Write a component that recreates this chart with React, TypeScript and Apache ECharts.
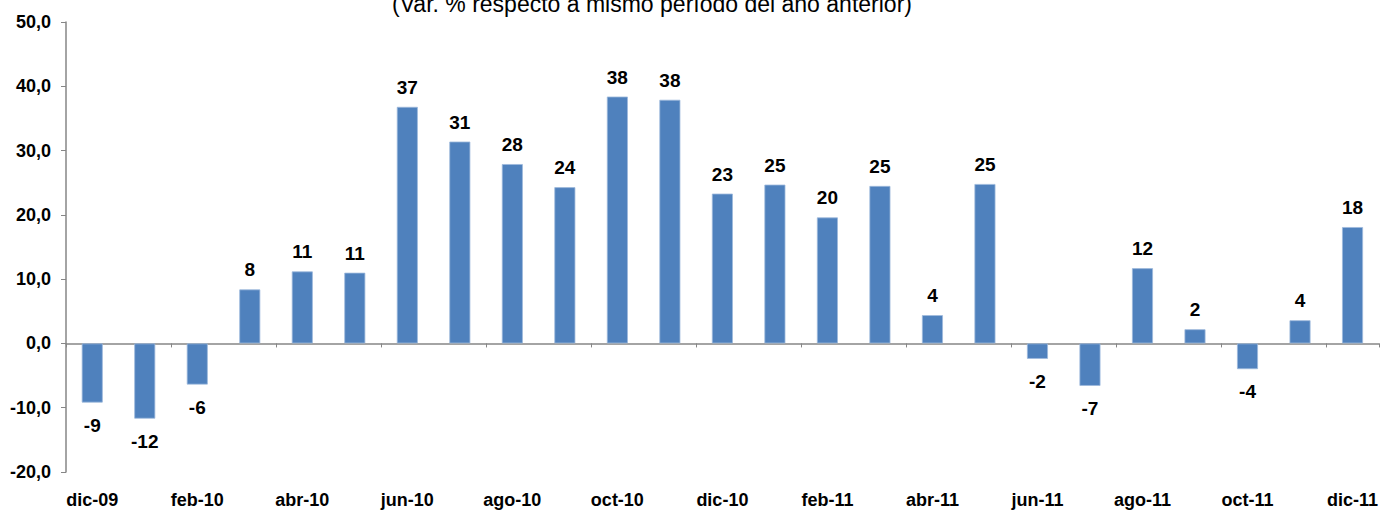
import React, { useEffect, useRef } from "react";
import * as echarts from "echarts";

const TITLE = "(Var. % respecto a mismo período del año anterior)";

const categories = [
  "dic-09", "ene-10", "feb-10", "mar-10", "abr-10", "may-10", "jun-10",
  "jul-10", "ago-10", "sep-10", "oct-10", "nov-10", "dic-10", "ene-11",
  "feb-11", "mar-11", "abr-11", "may-11", "jun-11", "jul-11", "ago-11",
  "sep-11", "oct-11", "nov-11", "dic-11",
];

const values = [
  -9.2, -11.7, -6.4, 8.4, 11.2, 11.0, 36.8, 31.4, 27.9, 24.3, 38.4, 37.9,
  23.3, 24.7, 19.6, 24.5, 4.4, 24.8, -2.4, -6.6, 11.7, 2.2, -4.0, 3.6, 18.1,
];

const yMin = -20;
const yMax = 50;
const yStep = 10;

export default function App() {
  const ref = useRef<HTMLDivElement>(null);

  useEffect(() => {
    if (!ref.current) return;
    const chart = echarts.init(ref.current, undefined, { renderer: "svg" });
    const font = "'Liberation Sans', Arial, sans-serif";

    chart.setOption({
      animation: false,
      backgroundColor: "#ffffff",
      textStyle: { fontFamily: font },
      grid: { left: 66, right: 0, top: 22, bottom: 40, containLabel: false },
      graphic: [
        {
          type: "text",
          x: 652,
          y: 15,
          style: {
            text: TITLE,
            fontFamily: font,
            fontSize: 23,
            fill: "#000",
            align: "center",
            verticalAlign: "bottom",
          },
        },
      ],
      xAxis: [
        {
          type: "category",
          data: categories,
          position: "bottom",
          axisLine: { show: true, onZero: true, lineStyle: { color: "#868686", width: 1.5 } },
          axisTick: { show: true, interval: 1, length: 4, lineStyle: { color: "#868686" } },
          axisLabel: { show: false },
          splitLine: { show: false },
        },
        {
          type: "category",
          data: categories,
          position: "bottom",
          axisLine: { show: false, onZero: false },
          axisTick: { show: false },
          axisLabel: {
            show: true,
            interval: 1,
            margin: 19,
            fontSize: 18,
            fontWeight: "bold",
            color: "#000",
            fontFamily: font,
          },
          splitLine: { show: false },
        },
      ],
      yAxis: {
        type: "value",
        min: yMin,
        max: yMax,
        interval: yStep,
        axisLine: { show: true, lineStyle: { color: "#868686", width: 1.5 } },
        axisTick: { show: true, length: 5, lineStyle: { color: "#868686" } },
        splitLine: { show: false },
        axisLabel: {
          margin: 15,
          fontSize: 18,
          fontWeight: "bold",
          color: "#000",
          fontFamily: font,
          formatter: (v: number) => v.toFixed(1).replace(".", ","),
        },
      },
      series: [
        {
          type: "bar",
          xAxisIndex: 0,
          barWidth: 21,
          itemStyle: { color: "#4F81BD", borderColor: "#9DB9DC", borderWidth: 0.8 },
          data: values.map((v) => ({
            value: v,
            label: {
              show: true,
              position: v < 0 ? "bottom" : "top",
              distance: v < 0 ? 13 : 10,
            },
          })),
          label: {
            show: true,
            fontSize: 19,
            fontWeight: "bold",
            color: "#000",
            fontFamily: font,
            formatter: (p: any) => String(Math.round(p.value)),
          },
        },
      ],
    });

    return () => chart.dispose();
  }, []);

  return (
    <div
      ref={ref}
      style={{ position: "fixed", left: 0, top: 0, width: 1381, height: 512 }}
    />
  );
}
